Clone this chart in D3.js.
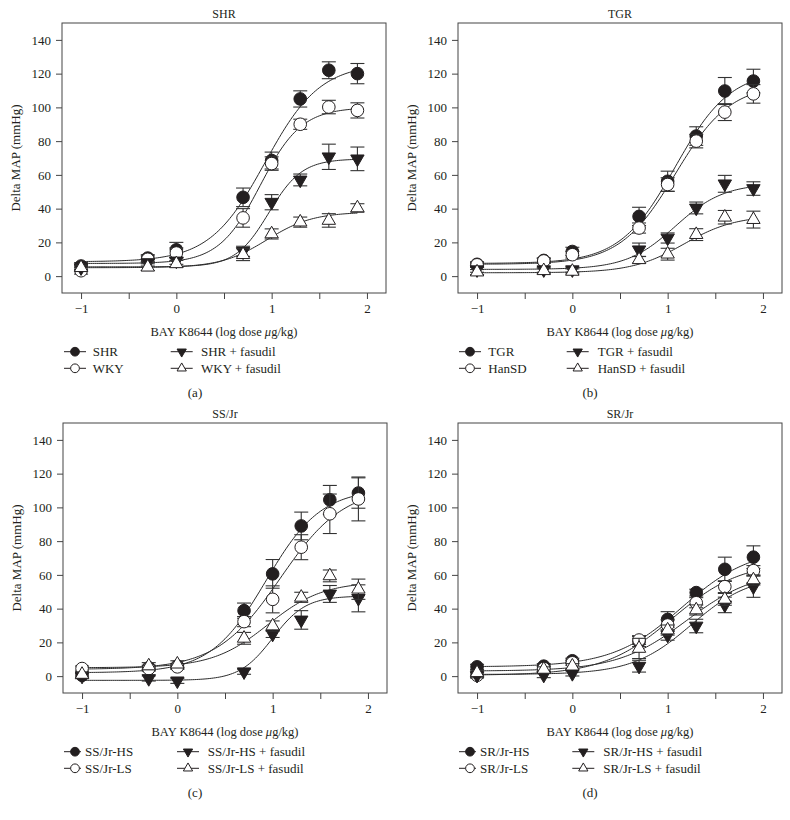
<!DOCTYPE html>
<html><head><meta charset="utf-8">
<script src="https://cdn.jsdelivr.net/npm/d3@7/dist/d3.min.js"></script>
<style>
body{margin:0;background:#fff}
text{font-family:"Liberation Serif","Times New Roman",serif;fill:#231f20}
</style>
</head><body>
<svg id="chart" width="790" height="820"></svg>
<script>
// ---------- DATA ----------
const doses = [-1, -0.3, 0, 0.7, 1, 1.3, 1.6, 1.9];
const yTicks = [0, 20, 40, 60, 80, 100, 120, 140];
const xTicks = [-1, -0.5, 0, 0.5, 1, 1.5, 2];
const xTickLabels = ["−1", "", "0", "", "1", "", "2"];
const panelTitles = ["SHR", "TGR", "SS/Jr", "SR/Jr"];
const panelCaptions = ["(a)", "(b)", "(c)", "(d)"];
const yAxisLabel = "Delta MAP (mmHg)";

const namesA = ["SHR", "WKY", "SHR + fasudil", "WKY + fasudil"];
const namesB = ["TGR", "HanSD", "TGR + fasudil", "HanSD + fasudil"];
const namesC = ["SS/Jr-HS", "SS/Jr-LS", "SS/Jr-HS + fasudil", "SS/Jr-LS + fasudil"];
const namesD = ["SR/Jr-HS", "SR/Jr-LS", "SR/Jr-HS + fasudil", "SR/Jr-LS + fasudil"];

// mean values (mmHg) per series, at each dose
const valuesA = [
  [6, 10.7, 15.6, 46.7, 68.5, 105, 122, 120],
  [3.2, 10, 13.7, 34.5, 66.7, 90, 100.2, 98.2],
  [5, 8, 9, 14.7, 43.8, 57, 70.7, 69.5],
  [5, 5.3, 7.3, 12.7, 25, 32, 33, 40.4]
];
const errorsA = [
  [2, 2, 4.4, 5.5, 5, 4.8, 5, 6],
  [2, 2, 3, 5.5, 4, 3, 4, 4.5],
  [2, 2, 2, 3, 4.5, 3.5, 7.5, 7],
  [1.5, 2, 2, 3.5, 3, 3, 4, 2.5]
];
const valuesB = [
  [7, 9.3, 14.6, 35.4, 56.2, 83, 109.7, 115.6],
  [6.7, 9, 12.7, 28.5, 54.3, 80, 97.2, 108],
  [3.8, 3.8, 3.8, 15.6, 22.6, 40.4, 54.7, 51.9],
  [2.4, 3.2, 2.8, 9.7, 13, 24.6, 34.9, 33.5]
];
const errorsB = [
  [1.5, 1.5, 2.5, 5.4, 6, 5.5, 8, 7],
  [1.5, 1.5, 2, 3, 4, 4, 5, 5.5],
  [1.5, 1.5, 1.5, 4, 3, 3.5, 5, 4],
  [1.5, 1.5, 1.5, 2, 3.5, 3.5, 4, 5]
];
const valuesC = [
  [0.5, 5, 6, 38.8, 60.6, 89, 104.5, 108.5],
  [4.5, 4.5, 5.5, 32.3, 45.5, 76.4, 96.2, 105],
  [0, -1.4, -2.8, 2.6, 24.9, 33.3, 48.7, 46.1],
  [1, 6, 7.1, 22.4, 29.7, 46.7, 59.4, 51.5]
];
const errorsC = [
  [1.5, 1.5, 1.5, 4.5, 8.5, 8.2, 8.5, 9],
  [1.5, 1.5, 1.5, 3, 8, 7.4, 11.7, 13],
  [1.5, 1.5, 1.5, 1.5, 2, 5.5, 5, 8],
  [1.5, 2, 2, 3.5, 3, 3, 3.5, 6]
];
const valuesD = [
  [5.5, 5.9, 9.1, 20.5, 33.6, 49.5, 63.3, 70.5],
  [0.5, 4.5, 7.9, 21.4, 30.3, 43.5, 53, 62.5],
  [0.5, 0.6, 1.6, 5.9, 24.3, 29.7, 42.2, 53],
  [2, 4, 5.9, 16.4, 27.3, 39.2, 45.5, 57]
];
const errorsD = [
  [1.5, 1.5, 1.5, 3, 4.6, 2, 7.2, 6.7],
  [1.5, 1.5, 1.5, 2.6, 3, 3, 3.5, 3],
  [1.5, 1.5, 1.5, 3.5, 3, 4, 4.6, 6.3],
  [1.5, 1.5, 1.5, 6, 3, 3, 3.5, 3]
];
// fitted sigmoid curves: [bottom, top, logEC50, hill slope]
const fitsA = [[8.5, 126, 0.93, 1.5], [7.5, 100, 0.88, 2.0], [5.5, 69.5, 0.97, 2.5], [5, 38, 0.95, 1.8]];
const fitsB = [[7.5, 122, 1.08, 1.5], [7, 114, 1.08, 1.5], [4, 55, 1.08, 1.7], [2, 36, 1.17, 1.6]];
const fitsC = [[2, 111, 0.93, 1.5], [4, 112, 1.08, 1.3], [-2.5, 47.5, 1.0, 2.5], [5, 56, 0.95, 1.5]];
const fitsD = [[5.5, 76, 1.15, 1.2], [0.5, 68, 1.05, 1.2], [1, 60, 1.25, 1.4], [3, 63, 1.2, 1.2]];

const panelNames = [namesA, namesB, namesC, namesD];
const panelValues = [valuesA, valuesB, valuesC, valuesD];
const panelErrors = [errorsA, errorsB, errorsC, errorsD];
const panelFits = [fitsA, fitsB, fitsC, fitsD];

// ---------- LAYOUT ----------
const W = 324, H = 270;
const layout = [
  {left: 62, top: 23, leg: [13, 30.7, 119.7, 139]},
  {left: 458, top: 23, leg: [12, 30.3, 119.7, 139.7]},
  {left: 63, top: 423, leg: [12, 22, 125, 144.7]},
  {left: 458, top: 423, leg: [12, 22, 125.3, 145.3]}
];
const ink = "#231f20";

const svg = d3.select("#chart");

function markerPath(k, size) {
  if (k < 2) return d3.symbol().type(d3.symbolCircle).size(size)();
  return d3.symbol().type(d3.symbolTriangle).size(size * 0.62)();
}
function markerRot(k) { return k === 2 ? " rotate(180)" : ""; }
function markerFill(k) { return (k === 0 || k === 2) ? ink : "#fff"; }

layout.forEach((L, p) => {
  const g = svg.append("g").attr("transform", `translate(${L.left},${L.top})`);
  const x = d3.scaleLinear().domain([-1.2, 2.2]).range([0, W]);
  const y = d3.scaleLinear().domain([-10, 150]).range([H, 0]);

  // title
  g.append("text").attr("x", W / 2).attr("y", -5.5).attr("text-anchor", "middle")
    .attr("font-size", 12).text(panelTitles[p]);

  // frame
  g.append("rect").attr("x", 0).attr("y", 0).attr("width", W).attr("height", H)
    .attr("fill", "none").attr("stroke", "#444").attr("stroke-width", 1);

  // axes
  const ya = g.append("g").call(d3.axisLeft(y).tickValues(yTicks).tickSize(6).tickPadding(5));
  const xa = g.append("g").attr("transform", `translate(0,${H})`)
    .call(d3.axisBottom(x).tickValues(xTicks).tickSize(6).tickPadding(5)
      .tickFormat((d, i) => xTickLabels[i]));
  [ya, xa].forEach(a => {
    a.select(".domain").remove();
    a.selectAll("line").attr("stroke", "#444");
    a.selectAll("text").attr("font-size", 13).attr("fill", ink)
      .attr("font-family", '"Liberation Serif","Times New Roman",serif');
  });

  // y label
  g.append("text").attr("transform", `translate(-42.5,${H / 2}) rotate(-90)`)
    .attr("text-anchor", "middle").attr("font-size", 13).text(yAxisLabel);

  // x label
  const xl = g.append("text").attr("x", W / 2).attr("y", 312.5).attr("text-anchor", "middle")
    .attr("font-size", 12.5);
  xl.append("tspan").text("BAY K8644 (log dose ");
  xl.append("tspan").attr("font-style", "italic").text("μ");
  xl.append("tspan").text("g/kg)");

  // curves
  const line = d3.line().x(d => x(d[0])).y(d => y(d[1])).curve(d3.curveLinear);
  const xs = d3.range(-1, 1.9001, 0.02);
  panelFits[p].forEach(f => {
    const pts = xs.map(v => [v, f[0] + (f[1] - f[0]) / (1 + Math.pow(10, (f[2] - v) * f[3]))]);
    g.append("path").attr("d", line(pts)).attr("fill", "none")
      .attr("stroke", "#2a2a2a").attr("stroke-width", 1);
  });

  // points + error bars
  panelValues[p].forEach((vals, k) => {
    const errs = panelErrors[p][k];
    const sg = g.append("g");
    vals.forEach((v, i) => {
      const cx = x(doses[i]);
      const e = errs[i];
      sg.append("line").attr("x1", cx).attr("x2", cx).attr("y1", y(v - e)).attr("y2", y(v + e))
        .attr("stroke", "#333").attr("stroke-width", 1.1);
      [v - e, v + e].forEach(ev => {
        sg.append("line").attr("x1", cx - 7).attr("x2", cx + 7).attr("y1", y(ev)).attr("y2", y(ev))
          .attr("stroke", "#333").attr("stroke-width", 1.1);
      });
    });
    vals.forEach((v, i) => {
      sg.append("path").attr("d", markerPath(k, 125))
        .attr("transform", `translate(${x(doses[i])},${y(v)})${markerRot(k)}`)
        .attr("fill", markerFill(k)).attr("stroke", ink).attr("stroke-width", 1);
    });
  });

  // legend
  const names = panelNames[p];
  const rowsY = [328.7, 345.3];
  names.forEach((nm, k) => {
    const col = k < 2 ? 0 : 1;
    const row = k % 2;
    const mx = L.leg[col * 2];
    const tx = L.leg[col * 2 + 1];
    const ly = rowsY[row];
    g.append("line").attr("x1", mx - 11).attr("x2", Math.min(mx + 11, tx - 4))
      .attr("y1", ly).attr("y2", ly).attr("stroke", ink).attr("stroke-width", 1);
    g.append("path").attr("d", markerPath(k, 60))
      .attr("transform", `translate(${mx},${ly})${markerRot(k)}`)
      .attr("fill", markerFill(k)).attr("stroke", ink).attr("stroke-width", 1);
    g.append("text").attr("x", tx).attr("y", ly + 4.5).attr("font-size", 13).text(nm);
  });

  // caption
  g.append("text").attr("x", (p % 2 === 0 ? 195 : 590) - L.left).attr("y", 374)
    .attr("text-anchor", "middle").attr("font-size", 13).text(panelCaptions[p]);
});
</script>
</body></html>
